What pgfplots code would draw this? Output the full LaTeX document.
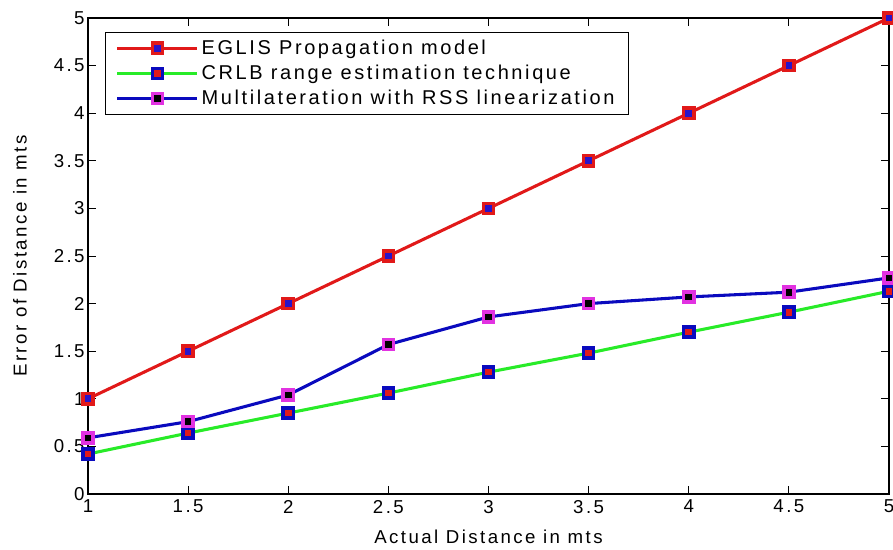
\documentclass[border=0pt]{standalone}
\usepackage{pgfplots}
\pgfplotsset{compat=1.18}
\usepackage{fontspec}
\setmainfont{Liberation Sans}[LetterSpace=13]
\definecolor{cred}{RGB}{225,25,25}
\definecolor{cgreen}{RGB}{40,235,40}
\definecolor{cblue}{RGB}{10,10,190}
\definecolor{cmag}{RGB}{225,50,225}
\definecolor{cmblue}{RGB}{40,20,200}
\begin{document}
\begin{tikzpicture}
\begin{axis}[
  scale only axis,
  width=600.75pt, height=357pt,
  xmin=1, xmax=5, ymin=0, ymax=5,
  xtick={1,1.5,2,2.5,3,3.5,4,4.5,5},
  ytick={0,0.5,1,1.5,2,2.5,3,3.5,4,4.5,5},
  tick align=inside,
  major tick length=6pt,
  tick style={black, line width=0.6pt},
  axis line style={black, line width=0.8pt},
  /pgf/number format/assume math mode=true,
  ticklabel style={font=\fontsize{14}{16}\selectfont},
  xticklabel style={yshift=-1pt},
  yticklabel style={xshift=1pt},
  label style={font=\fontsize{14}{16}\selectfont},
  xlabel={Actual Distance in mts},
  ylabel={Error of Distance in mts},
  xlabel style={at={(axis description cs:0.5,-0.09)}, anchor=center},
  ylabel style={at={(axis description cs:-0.085,0.5)}, anchor=center},
  legend style={at={(axis description cs:0.021,0.97)}, anchor=north west,
    draw=black, line width=0.6pt, font=\fontsize{15}{17}\selectfont,
    row sep=2.5pt, inner xsep=8pt, inner ysep=3.5pt,
    /tikz/every even column/.append style={column sep=10pt}},
  legend cell align=left,
  legend image code/.code={\draw[mark repeat=2,mark phase=2] plot coordinates {(0pt,0pt) (30pt,0pt) (60pt,0pt)};},
  every axis plot/.append style={line width=2.3pt},
  mark size=3.8pt,
]
\addplot[cred, mark=square*, mark options={draw=cred, fill=cmblue, line width=2.6pt, rounded corners=2pt}]
coordinates {(1,1) (1.5,1.5) (2,2) (2.5,2.5) (3,3) (3.5,3.5) (4,4) (4.5,4.5) (5,5)};
\addlegendentry{EGLIS Propagation model}
\addplot[cgreen, mark=square*, mark options={draw=cblue, fill=cred, line width=2.6pt, rounded corners=2pt}]
coordinates {(1,0.42) (1.5,0.64) (2,0.85) (2.5,1.06) (3,1.28) (3.5,1.48) (4,1.70) (4.5,1.91) (5,2.13)};
\addlegendentry{CRLB range estimation technique}
\addplot[cblue, mark=square*, mark options={draw=cmag, fill=black, line width=2.6pt, rounded corners=2pt}]
coordinates {(1,0.59) (1.5,0.76) (2,1.04) (2.5,1.57) (3,1.86) (3.5,2.00) (4,2.07) (4.5,2.12) (5,2.27)};
\addlegendentry{Multilateration with RSS linearization}
\end{axis}
\pgfresetboundingbox
\useasboundingbox (-66pt,-42pt) rectangle (603.75pt,370.5pt);
\end{tikzpicture}
\end{document}
